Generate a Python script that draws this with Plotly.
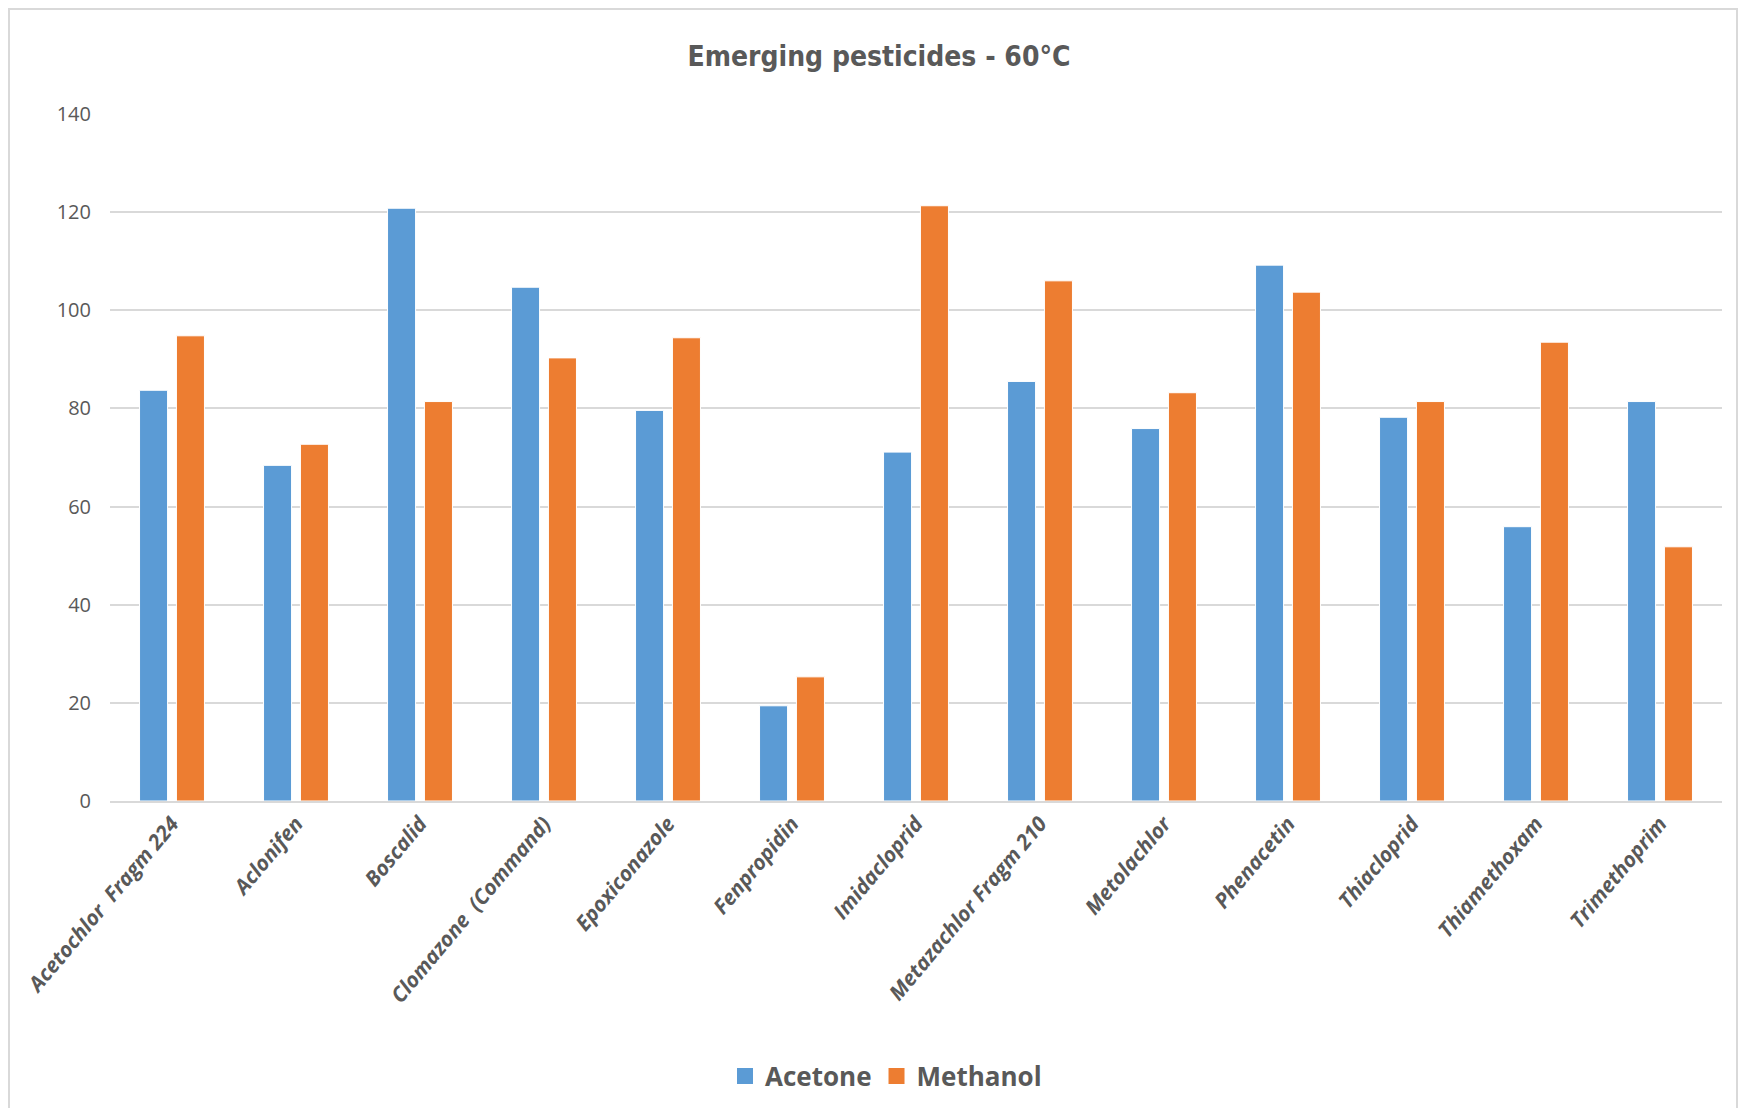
import plotly.graph_objects as go

categories = ["Acetochlor  Fragm 224", "Aclonifen", "Boscalid", "Clomazone  (Command)",
              "Epoxiconazole", "Fenpropidin", "Imidacloprid", "Metazachlor Fragm 210",
              "Metolachlor", "Phenacetin", "Thiacloprid", "Thiamethoxam", "Trimethoprim"]
acetone = [83.7, 68.4, 120.8, 104.7, 79.6, 19.4, 71.1, 85.5, 75.9, 109.2, 78.2, 55.9, 81.4]
methanol = [94.8, 72.7, 81.4, 90.3, 94.4, 25.3, 121.3, 106.0, 83.2, 103.7, 81.4, 93.5, 51.8]
y_ticks = [0, 20, 40, 60, 80, 100, 120, 140]
series_names = ["Acetone", "Methanol"]
series_colors = ["#5B9BD5", "#ED7D31"]

OFF = 8  # page body margin
W, H = 1754 - OFF, 1116 - 2 * OFF
# desired page-pixel positions of plot area
pl, pr, pt, pb = 110, 1722, 114, 801
L, T = pl - OFF, pt - OFF
R, B = W - (pr - OFF), H - (pb - OFF)
pw, ph = pr - pl, pb - pt


def px(xp):
    return (xp - pl) / pw


def py(yp):
    return (pb - yp) / ph


fig = go.Figure()
for name, vals, col in zip(series_names, [acetone, methanol], series_colors):
    fig.add_trace(go.Bar(name=name, x=categories, y=vals, showlegend=False,
                         marker=dict(color=col, line=dict(color="#ffffff", width=1))))
# legend entries with larger square swatches
for name, col in zip(series_names, series_colors):
    fig.add_trace(go.Scatter(name=name, x=[None], y=[None], mode="markers",
                             marker=dict(symbol="square", size=16, color=col)))

fig.update_layout(
    width=W, height=H,
    margin=dict(l=L, r=R, t=T, b=B, autoexpand=False),
    paper_bgcolor="white", plot_bgcolor="white",
    barmode="group", bargap=0.405, bargroupgap=0.24,
    title=dict(text="<b>Emerging pesticides - 60°C</b>", x=(879 - OFF) / W, y=1 - (56 - OFF) / H,
               xanchor="center", yanchor="middle",
               font=dict(family="DejaVu Sans Condensed, Open Sans, sans-serif", size=28, color="#595959")),
    xaxis=dict(tickangle=-50, showgrid=False, showline=True, linecolor="#d9d9d9", linewidth=2,
               ticks="", automargin=False,
               tickfont=dict(family="Open Sans, sans-serif", size=21, color="#595959",
                             weight="bold", style="italic")),
    yaxis=dict(range=[0, 140], tickvals=y_ticks, showgrid=True, gridcolor="#d9d9d9", gridwidth=1.5,
               zeroline=False, showline=False, ticks="", ticklabelstandoff=18, automargin=False,
               tickfont=dict(family="Open Sans, sans-serif", size=20, color="#595959")),
    legend=dict(orientation="h", x=px(886), xanchor="center", y=py(1076),
                yanchor="middle", font=dict(family="Open Sans, sans-serif", size=26, color="#595959",
                                            weight="bold"),
                itemwidth=30, traceorder="normal"),
    shapes=[dict(type="rect", xref="paper", yref="paper",
                 x0=px(9), x1=px(1737), y0=py(1140), y1=py(9),
                 line=dict(color="#d9d9d9", width=2), layer="below")],
)

fig.write_html("out.html")
